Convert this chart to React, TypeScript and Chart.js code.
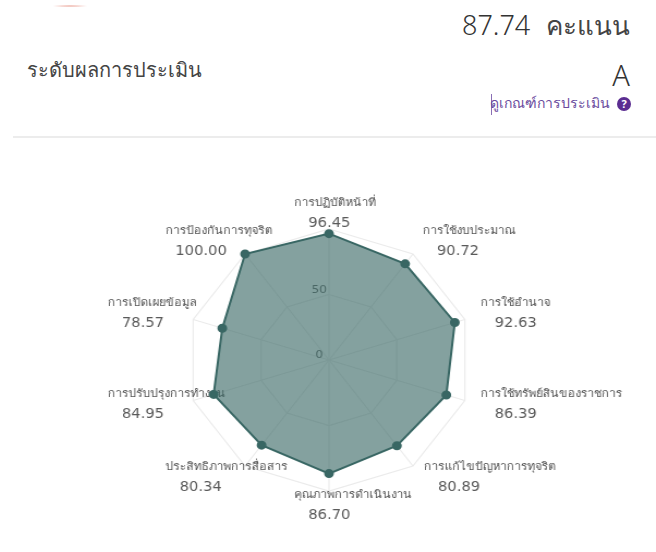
import React, { useEffect, useRef } from "react";
import { Chart, registerables } from "chart.js";

Chart.register(...registerables);

const categories = [
  "การปฏิบัติหน้าที่",
  "การใช้งบประมาณ",
  "การใช้อำนาจ",
  "การใช้ทรัพย์สินของราชการ",
  "การแก้ไขปัญหาการทุจริต",
  "คุณภาพการดำเนินงาน",
  "ประสิทธิภาพการสื่อสาร",
  "การปรับปรุงการทำงาน",
  "การเปิดเผยข้อมูล",
  "การป้องกันการทุจริต",
];
const scores = [96.45, 90.72, 92.63, 86.39, 80.89, 86.7, 80.34, 84.95, 78.57, 100.0];
const labelLeft = [-32, 86, 139, 139, 87, -32, -150, -203, -203, -150];
const labelTop = [-157, -129, -57, 34, 107, 135, 107, 34, -57, -129];
const valueShift = [13, 13, 13, 13, 13, 13, 13, 13, 13, 9];
const axisTicks = [0, 50];

const STRETCH = 1.09;
const BODY = "'DejaVu Sans', 'Noto Sans', sans-serif";

const labelsPlugin = {
  id: "radarLabels",
  beforeDatasetsDraw(chart: any) {
    const r = chart.scales.r;
    const ctx = chart.ctx;
    ctx.save();
    ctx.textBaseline = "middle";
    ctx.textAlign = "left";
    categories.forEach((name, i) => {
      const x = r.xCenter + labelLeft[i];
      const y = r.yCenter + labelTop[i];
      ctx.fillStyle = "#555";
      ctx.font = `11px ${BODY}`;
      ctx.fillText(name, x, y);
      ctx.fillStyle = "#5a5a5a";
      ctx.font = `13.5px ${BODY}`;
      ctx.fillText(scores[i].toFixed(2), x + valueShift[i], y + 20);
    });
    ctx.fillStyle = "#666";
    ctx.font = `11px ${BODY}`;
    ctx.textAlign = "center";
    axisTicks.forEach((t) => {
      const d = r.getDistanceFromCenterForValue(t);
      ctx.fillText(String(t), r.xCenter - 9, r.yCenter - d - 4.5);
    });
    ctx.restore();
  },
};

export default function App() {
  const ref = useRef<HTMLCanvasElement>(null);
  useEffect(() => {
    const chart = new Chart(ref.current as HTMLCanvasElement, {
      type: "radar",
      data: {
        labels: categories,
        datasets: [
          {
            data: scores,
            borderColor: "#396764",
            borderWidth: 2,
            backgroundColor: "rgba(57,103,100,0.62)",
            pointBackgroundColor: "#396764",
            pointBorderColor: "#396764",
            pointRadius: 3.5,
            fill: true,
            tension: 0,
          },
        ],
      },
      options: {
        responsive: false,
        animation: false,
        layout: { padding: 59 },
        plugins: { legend: { display: false }, tooltip: { enabled: false } },
        scales: {
          r: {
            min: 0,
            max: 100,
            ticks: { display: false, stepSize: 50 },
            pointLabels: { display: false },
            grid: { color: "#ebebeb", lineWidth: 1.2 },
            angleLines: { color: "#ebebeb", lineWidth: 1.2 },
          },
        },
      },
      plugins: [labelsPlugin],
    } as any);
    return () => chart.destroy();
  }, []);

  const font = "'Noto Sans', 'DejaVu Sans', sans-serif";
  const abs = (o: React.CSSProperties): React.CSSProperties => ({
    position: "absolute",
    fontFamily: font,
    whiteSpace: "nowrap",
    lineHeight: 1,
    ...o,
  });

  return (
    <div style={{ position: "absolute", left: 0, top: 0, width: 656, height: 552, overflow: "hidden", background: "#fff" }}>
      <div style={{ position: "absolute", left: 50, top: 5, width: 40, height: 2, borderRadius: "50%", background: "radial-gradient(closest-side, #e8988a, rgba(240,190,180,0))" }} />
      <div style={abs({ left: 462, top: 11, fontSize: 27, color: "#333", fontWeight: 300 })}>87.74</div>
      <div style={abs({ right: 26, top: 12, fontSize: 26, color: "#444" })}>คะแนน</div>
      <div style={abs({ left: 27, top: 60, fontSize: 20, color: "#444" })}>ระดับผลการประเมิน</div>
      <div style={abs({ right: 26, top: 60, fontSize: 29, color: "#333", fontWeight: 300 })}>A</div>
      <div style={{ position: "absolute", left: 491, top: 94, width: 1, height: 21, background: "#8a6fb5" }} />
      <div style={abs({ right: 46, top: 96, fontSize: 14, color: "#6a4b9e" })}>ดูเกณฑ์การประเมิน</div>
      <div style={abs({ left: 617, top: 97, width: 14, height: 14, borderRadius: "50%", background: "#5b2d91", color: "#fff", fontSize: 11, fontWeight: 700, textAlign: "center", lineHeight: "14px" })}>?</div>
      <div style={{ position: "absolute", left: 13, right: 0, top: 136, height: 2, background: "#ececec" }} />
      <div style={{ position: "absolute", left: 28.5, top: 170, width: 600, height: 380, transform: `scaleX(${STRETCH})`, transformOrigin: "center" }}>
        <canvas ref={ref} width={600} height={380} />
      </div>
    </div>
  );
}
